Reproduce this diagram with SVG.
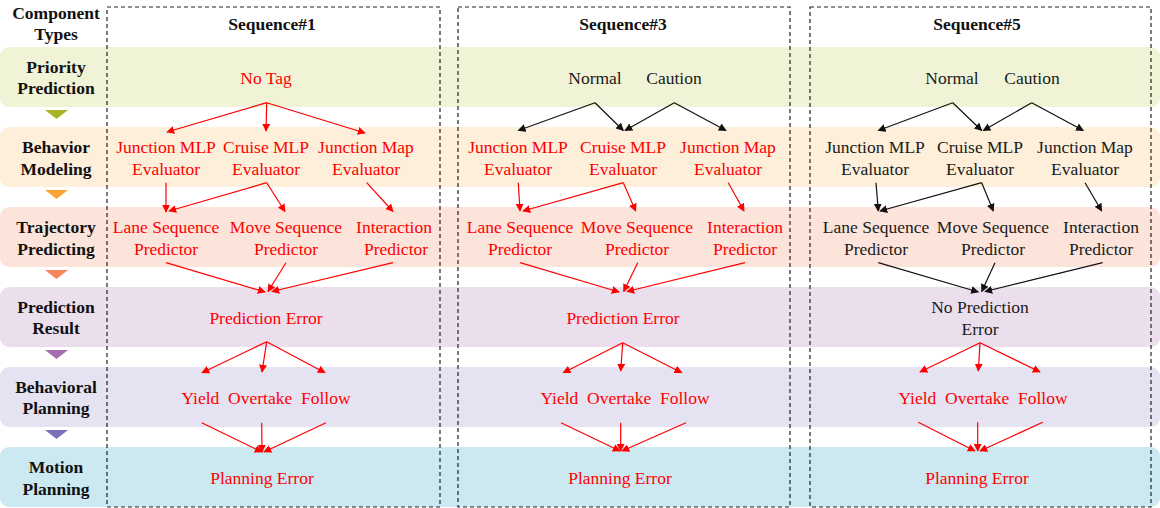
<svg xmlns="http://www.w3.org/2000/svg" width="1160" height="508" viewBox="0 0 1160 508">
<style>
text{font-family:"Liberation Serif","Times New Roman",serif;font-size:17.5px;text-anchor:middle}
.lbl{font-weight:bold;fill:#111}
.hd{font-weight:bold;fill:#111}
.r{fill:#ff0000}
.k{fill:#1a1a1a}
.box{fill:none;stroke:#222;stroke-width:1.2;stroke-dasharray:4 3}
.ar{fill:none;stroke:#ff0000;stroke-width:1.2;marker-end:url(#mr)}
.ak{fill:none;stroke:#111;stroke-width:1.2;marker-end:url(#mk)}
</style>
<defs>
<marker id="mr" viewBox="0 0 10 10" refX="9" refY="5" markerWidth="8" markerHeight="8" markerUnits="userSpaceOnUse" orient="auto"><path d="M0,0 L10,5 L0,10 z" fill="#ff0000"/></marker>
<marker id="mk" viewBox="0 0 10 10" refX="9" refY="5" markerWidth="8" markerHeight="8" markerUnits="userSpaceOnUse" orient="auto"><path d="M0,0 L10,5 L0,10 z" fill="#111"/></marker>
</defs>
<rect width="1160" height="508" fill="#ffffff"/>
<g id="bands">
<rect x="0" y="47" width="1160" height="60" rx="9" fill="#f0f3d6"/>
<rect x="0" y="127" width="1160" height="60" rx="9" fill="#fdefda"/>
<rect x="0" y="207" width="1160" height="60" rx="9" fill="#fce4da"/>
<rect x="0" y="287" width="1160" height="60" rx="9" fill="#ebdfee"/>
<rect x="0" y="367" width="1160" height="60" rx="9" fill="#e5e2f1"/>
<rect x="0" y="447" width="1160" height="60" rx="9" fill="#cce9f2"/>
<path d="M45,110 L68,110 L56.5,119 z" fill="#a8b424"/>
<path d="M45,190 L68,190 L56.5,199 z" fill="#f8a535"/>
<path d="M45,270 L68,270 L56.5,279 z" fill="#f7845c"/>
<path d="M45,350 L68,350 L56.5,359 z" fill="#a66db0"/>
<path d="M45,430 L68,430 L56.5,439 z" fill="#7b72bc"/>
</g>
<g id="labels">
<text class="lbl" x="56" y="19">Component</text>
<text class="lbl" x="56" y="40">Types</text>
<text class="lbl" x="56" y="73">Priority</text>
<text class="lbl" x="56" y="94">Prediction</text>
<text class="lbl" x="56" y="153">Behavior</text>
<text class="lbl" x="56" y="175">Modeling</text>
<text class="lbl" x="56" y="233">Trajectory</text>
<text class="lbl" x="56" y="255">Predicting</text>
<text class="lbl" x="56" y="313">Prediction</text>
<text class="lbl" x="56" y="334">Result</text>
<text class="lbl" x="56" y="393">Behavioral</text>
<text class="lbl" x="56" y="414">Planning</text>
<text class="lbl" x="56" y="473">Motion</text>
<text class="lbl" x="56" y="495">Planning</text>
</g>
<g id="seq1">
<rect class="box" x="107" y="7" width="333" height="500"/>
<text class="hd" x="272" y="30">Sequence#1</text>
<text class="r" x="266" y="84">No Tag</text>
<text class="r" x="166" y="153">Junction MLP</text>
<text class="r" x="166" y="175">Evaluator</text>
<text class="r" x="266" y="153">Cruise MLP</text>
<text class="r" x="266" y="175">Evaluator</text>
<text class="r" x="366" y="153">Junction Map</text>
<text class="r" x="366" y="175">Evaluator</text>
<text class="r" x="166" y="233">Lane Sequence</text>
<text class="r" x="166" y="255">Predictor</text>
<text class="r" x="286" y="233">Move Sequence</text>
<text class="r" x="286" y="255">Predictor</text>
<text class="r" x="394" y="233">Interaction</text>
<text class="r" x="396" y="255">Predictor</text>
<text class="r" x="266" y="324">Prediction Error</text>
<text class="r" x="266" y="404" xml:space="preserve">Yield  Overtake  Follow</text>
<text class="r" x="262" y="484">Planning Error</text>
</g>
<g id="seq3">
<rect class="box" x="458" y="7" width="332" height="500"/>
<text class="hd" x="623" y="30">Sequence#3</text>
<text class="k" x="595" y="84">Normal</text>
<text class="k" x="674" y="84">Caution</text>
<text class="r" x="518" y="153">Junction MLP</text>
<text class="r" x="518" y="175">Evaluator</text>
<text class="r" x="623" y="153">Cruise MLP</text>
<text class="r" x="623" y="175">Evaluator</text>
<text class="r" x="728" y="153">Junction Map</text>
<text class="r" x="728" y="175">Evaluator</text>
<text class="r" x="520" y="233">Lane Sequence</text>
<text class="r" x="520" y="255">Predictor</text>
<text class="r" x="637" y="233">Move Sequence</text>
<text class="r" x="637" y="255">Predictor</text>
<text class="r" x="745" y="233">Interaction</text>
<text class="r" x="745" y="255">Predictor</text>
<text class="r" x="623" y="324">Prediction Error</text>
<text class="r" x="625" y="404" xml:space="preserve">Yield  Overtake  Follow</text>
<text class="r" x="620" y="484">Planning Error</text>
</g>
<g id="seq5">
<rect class="box" x="810" y="7" width="341" height="500"/>
<text class="hd" x="977" y="30">Sequence#5</text>
<text class="k" x="952" y="84">Normal</text>
<text class="k" x="1032" y="84">Caution</text>
<text class="k" x="875" y="153">Junction MLP</text>
<text class="k" x="875" y="175">Evaluator</text>
<text class="k" x="980" y="153">Cruise MLP</text>
<text class="k" x="980" y="175">Evaluator</text>
<text class="k" x="1085" y="153">Junction Map</text>
<text class="k" x="1085" y="175">Evaluator</text>
<text class="k" x="876" y="233">Lane Sequence</text>
<text class="k" x="876" y="255">Predictor</text>
<text class="k" x="993" y="233">Move Sequence</text>
<text class="k" x="993" y="255">Predictor</text>
<text class="k" x="1101" y="233">Interaction</text>
<text class="k" x="1101" y="255">Predictor</text>
<text class="k" x="980" y="313">No Prediction</text>
<text class="k" x="980" y="335">Error</text>
<text class="r" x="983" y="404" xml:space="preserve">Yield  Overtake  Follow</text>
<text class="r" x="977" y="484">Planning Error</text>
</g>
<g id="connectors">
<path class="ar" d="M266.7,102.7 L167,132"/>
<path class="ar" d="M266.7,102.7 L266,131"/>
<path class="ar" d="M266.7,102.7 L365,133"/>
<path class="ar" d="M166,182.7 L166,212"/>
<path class="ar" d="M266.7,182.7 L169,211"/>
<path class="ar" d="M266.7,182.7 L285,211.5"/>
<path class="ar" d="M366.7,182.7 L393,211.5"/>
<path class="ar" d="M166,262.7 L265,292"/>
<path class="ar" d="M286,262.7 L268,291.5"/>
<path class="ar" d="M393,262.7 L272,291.5"/>
<path class="ar" d="M266.7,341.7 L202,372.7"/>
<path class="ar" d="M266.7,341.7 L262,372"/>
<path class="ar" d="M266.7,341.7 L325,372.7"/>
<path class="ar" d="M201.7,422.7 L262,452"/>
<path class="ar" d="M261.7,422.7 L262,452"/>
<path class="ar" d="M326,422.7 L264,452"/>

<path class="ak" d="M595,102.7 L518.3,130.5"/>
<path class="ak" d="M595,102.7 L623.3,130.5"/>
<path class="ak" d="M674.3,102.7 L625,130.5"/>
<path class="ak" d="M674.3,102.7 L726,130.5"/>
<path class="ar" d="M518.3,182.7 L520,211"/>
<path class="ar" d="M623.3,182.7 L523,211"/>
<path class="ar" d="M623.3,182.7 L635.7,211"/>
<path class="ar" d="M728.3,182.7 L744,211"/>
<path class="ar" d="M520,262.7 L619,292"/>
<path class="ar" d="M637.7,262.7 L623.7,291.5"/>
<path class="ar" d="M745,262.7 L627,291.5"/>
<path class="ar" d="M622.7,342.7 L563.3,372.7"/>
<path class="ar" d="M622.7,342.7 L620.7,371"/>
<path class="ar" d="M622.7,342.7 L681.7,372.7"/>
<path class="ar" d="M561,422.7 L620,451"/>
<path class="ar" d="M620.7,422.7 L620.7,451"/>
<path class="ar" d="M686,422.7 L622,451"/>

<path class="ak" d="M952.7,102.7 L878.3,130.5"/>
<path class="ak" d="M952.7,102.7 L981.7,130.5"/>
<path class="ak" d="M1031.7,102.7 L983.3,130.5"/>
<path class="ak" d="M1031.7,102.7 L1083.3,130.5"/>
<path class="ak" d="M876,182.7 L878.3,211"/>
<path class="ak" d="M981.7,182.7 L880,211"/>
<path class="ak" d="M981.7,182.7 L993.3,211"/>
<path class="ak" d="M1085,182.7 L1101.7,211"/>
<path class="ak" d="M878.3,262.7 L978.3,292"/>
<path class="ak" d="M995,262.7 L981.7,291.5"/>
<path class="ak" d="M1102.7,262.7 L985,291.5"/>
<path class="ar" d="M980,342.7 L920,372"/>
<path class="ar" d="M980,342.7 L978.3,371"/>
<path class="ar" d="M980,342.7 L1040,372"/>
<path class="ar" d="M918.3,422.3 L975,451"/>
<path class="ar" d="M977.7,422.3 L977.7,451"/>
<path class="ar" d="M1042.7,422.3 L980,451"/>
</g>
</svg>
